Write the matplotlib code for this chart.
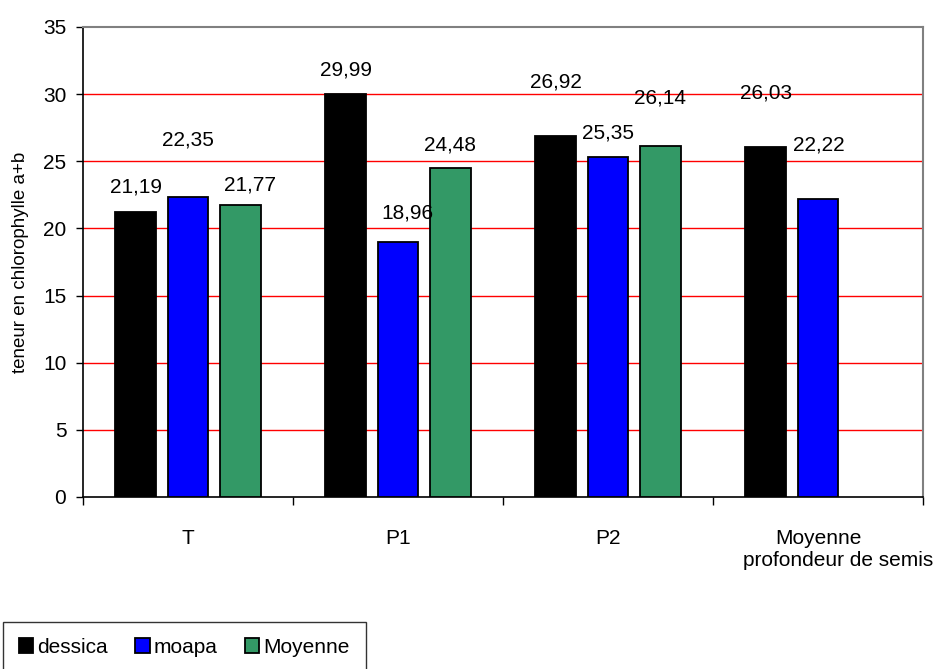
import numpy as np
import matplotlib
matplotlib.use("Agg")
import matplotlib.pyplot as plt

plt.rcParams['font.family'] = ['Liberation Sans', 'DejaVu Sans']

# Chlorophyll a+b content by sowing depth
categories = ["T", "P1", "P2", "Moyenne"]
series_names = ["dessica", "moapa", "Moyenne"]
dessica = [21.19, 29.99, 26.92, 26.03]
moapa = [22.35, 18.96, 25.35, 22.22]
moyenne = [21.77, 24.48, 26.14, np.nan]
y_ticks = [0, 5, 10, 15, 20, 25, 30, 35]
colors = ["#000000", "#0000FF", "#339966"]

# label placement relative to each bar top (dx in category units, dy in data units)
label_dx = [[0.0, 0.0, 0.0, 0.0],
            [0.0, 0.043, 0.0, 0.005],
            [0.048, 0.0, 0.0, 0.0]]
label_dy = [[1.9, 1.8, 3.98, 4.05],
            [4.23, 2.19, 1.75, 3.99],
            [1.46, 1.73, 3.57, 0.0]]

FS = 15
W, H = 936, 669
fig = plt.figure(figsize=(W / 100, H / 100), dpi=100)
ax = fig.add_axes([83 / W, 1 - 497 / H, (923 - 83) / W, (497 - 27) / H])

x = np.arange(len(categories))
step = 0.248
width = 0.195
all_series = [dessica, moapa, moyenne]
for j, (vals, col, name) in enumerate(zip(all_series, colors, series_names)):
    pos = x + (j - 1) * step
    ax.bar(pos, vals, width=width, color=col, edgecolor="black",
           linewidth=1.3, label=name, zorder=3)
    for i, v in enumerate(vals):
        if np.isnan(v):
            continue
        txt = f"{v:.2f}".replace(".", ",")
        ax.text(pos[i] + label_dx[j][i], v + label_dy[j][i], txt,
                ha="center", va="center", fontsize=FS, zorder=4)

ax.set_xlim(-0.5, len(categories) - 0.5)
ax.set_ylim(0, 35)
ax.set_yticks(y_ticks)
ax.tick_params(axis="y", labelsize=FS, length=5, width=1, pad=7, direction="out")

for yv in y_ticks[1:-1]:
    ax.axhline(yv, color="#FF0000", linewidth=1.0, zorder=1)

ax.set_xticks(x)
ax.set_xticklabels(categories, fontsize=FS)
ax.tick_params(axis="x", which="major", length=0, pad=23)
ax.set_xticks(np.arange(-0.5, len(categories)), minor=True)
ax.tick_params(axis="x", which="minor", length=6, width=1, direction="out")

ax.spines["left"].set_color("black")
ax.spines["bottom"].set_color("black")
ax.spines["left"].set_linewidth(1.2)
ax.spines["bottom"].set_linewidth(1.2)
ax.spines["top"].set_color("#808080")
ax.spines["right"].set_color("#808080")
ax.spines["top"].set_linewidth(1.5)
ax.spines["right"].set_linewidth(1.5)

fig.text(933 / W, 1 - 561 / H, "profondeur de semis", ha="right", va="center",
         fontsize=FS)
fig.text(21 / W, 1 - 262 / H, "teneur en chlorophylle a+b", rotation=90,
         ha="center", va="center", fontsize=13.5)

leg = fig.legend(loc="upper left", bbox_to_anchor=(3 / W, 1 - 622 / H),
                 ncol=3, frameon=True, fancybox=False, fontsize=FS,
                 handlelength=0.7, handleheight=0.7, handletextpad=0.2,
                 columnspacing=1.3, borderpad=0.75, borderaxespad=0)
leg.get_frame().set_edgecolor("black")
leg.get_frame().set_linewidth(1.0)

fig.savefig("out.png", dpi=100)
